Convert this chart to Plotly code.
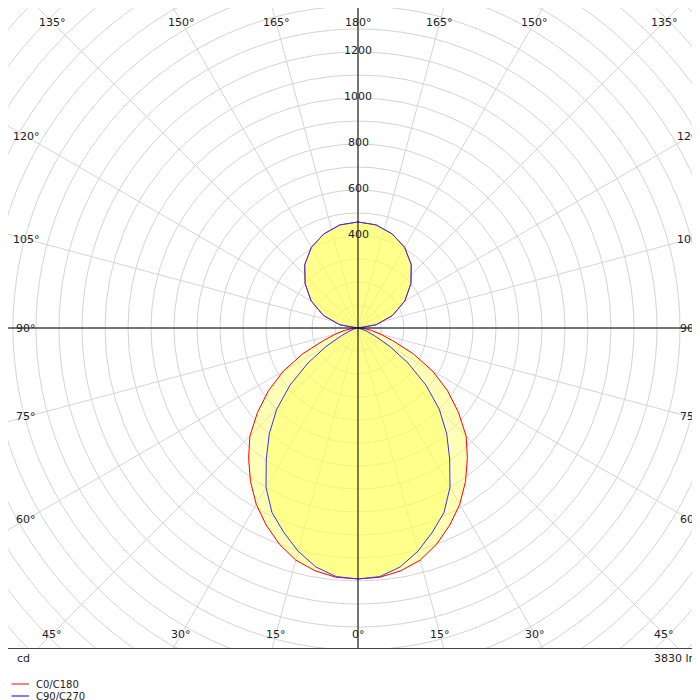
import numpy as np
import plotly.graph_objects as go

# gamma angles (deg) and intensities (cd)
gamma = [0, 5, 10, 15, 20, 25, 30, 35, 40, 45, 50, 55, 60, 65, 70, 75, 80, 85, 90,
         100, 110, 120, 130, 140, 150, 160, 170, 180]
c0_c180 = [1091, 1088, 1072, 1045, 1000, 945, 885, 815, 740, 665, 570, 475, 375, 265, 160, 100, 60, 25, 0,
           80, 160, 235, 300, 360, 405, 435, 455, 461]
c90_c270 = [1091, 1085, 1055, 1005, 945, 885, 800, 695, 600, 500, 385, 265, 160, 80, 40, 20, 8, 3, 0,
            80, 160, 235, 300, 360, 405, 435, 455, 461]
ring_labels = [400, 600, 800, 1000, 1200]
angle_labels = [0, 15, 30, 45, 60, 75, 90, 105, 120, 135, 150, 165, 180]

S = 0.23  # px per cd
XR = 350 / S
YR = 320 / S


def outline(vals):
    g = np.radians(gamma)
    v = np.array(vals, float)
    x = np.concatenate([v * np.sin(g), -(v * np.sin(g))[::-1]])
    y = np.concatenate([-v * np.cos(g), -(v * np.cos(g))[::-1]])
    return x, y


fig = go.Figure()
shapes = []
for r in range(100, 2200, 100):
    shapes.append(dict(type="circle", xref="x", yref="y", x0=-r, x1=r, y0=-r, y1=r,
                       line=dict(color="#d4d4d4", width=1), layer="below"))
for a in range(0, 360, 15):
    t = np.radians(a)
    shapes.append(dict(type="line", xref="x", yref="y", x0=0, y0=0,
                       x1=2500 * np.sin(t), y1=-2500 * np.cos(t),
                       line=dict(color="#d4d4d4", width=1), layer="below"))
shapes.append(dict(type="line", xref="x", yref="y", x0=-XR, x1=XR, y0=0, y1=0,
                   line=dict(color="black", width=1)))
shapes.append(dict(type="line", xref="x", yref="y", x0=0, x1=0, y0=-YR, y1=YR,
                   line=dict(color="black", width=1)))
# legend lines (paper y relative to the 640px plot area)
shapes.append(dict(type="line", xref="paper", yref="paper", x0=0.005, x1=0.03, y0=-36 / 640, y1=-36 / 640,
                   line=dict(color="red", width=1)))
shapes.append(dict(type="line", xref="paper", yref="paper", x0=0.005, x1=0.03, y0=-48 / 640, y1=-48 / 640,
                   line=dict(color="blue", width=1)))

for vals, col in [(c0_c180, "red"), (c90_c270, "#3333ff")]:
    x, y = outline(vals)
    fig.add_trace(go.Scatter(x=x, y=y, mode="lines", fill="toself",
                             fillcolor="rgba(255,255,90,0.45)",
                             line=dict(color=col, width=1), hoverinfo="skip"))

font = dict(family="DejaVu Sans", size=11, color="#222")
ann = []
for r in ring_labels:
    ann.append(dict(x=0, y=r, text=str(r), showarrow=False, font=font, yshift=2))
ix, iy = 332 / S, 306 / S
for a in angle_labels:
    sides = [a, -a] if 0 < a < 180 else [a]
    for s in sides:
        t = np.radians(s)
        dx, dy = np.sin(t), -np.cos(t)
        k = min(ix / abs(dx) if abs(dx) > 1e-9 else 1e9, iy / abs(dy) if abs(dy) > 1e-9 else 1e9)
        ann.append(dict(x=k * dx, y=k * dy, text=f"{a}°", showarrow=False, font=font))
small = dict(family="DejaVu Sans", size=10, color="#222")
ann += [
    dict(xref="paper", yref="paper", x=0.01, y=-10 / 640, xanchor="left", yanchor="middle",
         text="cd", showarrow=False, font=font),
    dict(xref="paper", yref="paper", x=0.99, y=-10 / 640, xanchor="right", yanchor="middle",
         text="3830 lm", showarrow=False, font=font),
    dict(xref="paper", yref="paper", x=0.037, y=-36 / 640, xanchor="left", yanchor="middle",
         text="C0/C180", showarrow=False, font=small),
    dict(xref="paper", yref="paper", x=0.037, y=-48 / 640, xanchor="left", yanchor="middle",
         text="C90/C270", showarrow=False, font=small),
]

fig.update_layout(
    width=700, height=700, margin=dict(l=0, r=0, t=0, b=60),
    plot_bgcolor="white", paper_bgcolor="white", showlegend=False,
    shapes=shapes, annotations=ann,
    xaxis=dict(range=[-XR, XR], showgrid=False, zeroline=False, showticklabels=False,
               showline=True, mirror=True, linecolor="#444", fixedrange=True),
    yaxis=dict(range=[-YR, YR], showgrid=False, zeroline=False, showticklabels=False,
               showline=True, mirror=True, linecolor="#444", fixedrange=True),
)
fig.write_html("out.html")
